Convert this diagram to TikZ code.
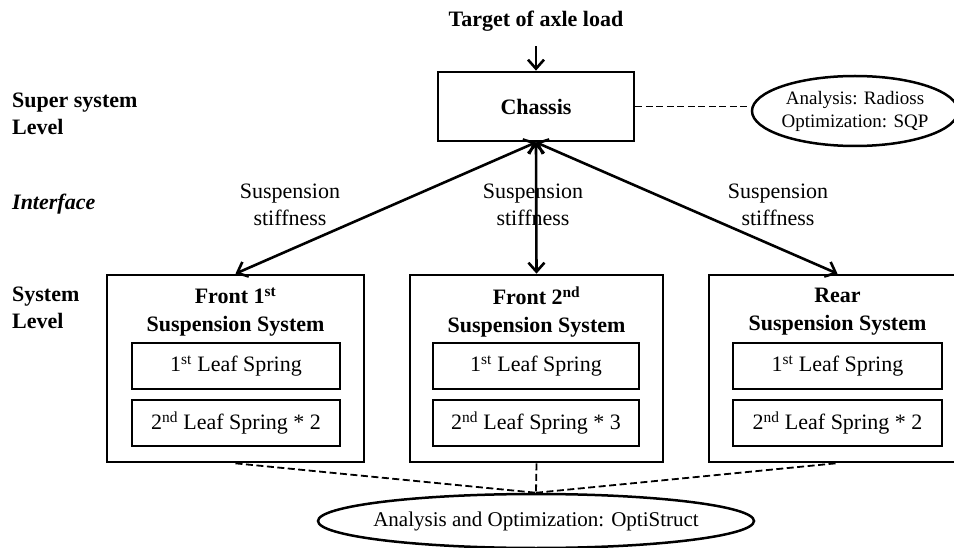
\documentclass[tikz,border=0pt]{standalone}
\usepackage{fontspec}
\setmainfont{Liberation Serif}
\usetikzlibrary{arrows.meta,shapes.geometric}
\begin{document}
\begin{tikzpicture}[x=1pt,y=-1pt,
  box/.style={draw, rectangle, inner sep=0pt, line width=2.7pt},
  ell/.style={draw, ellipse, inner sep=0pt, line width=2.5pt},
  lbl/.style={font=\fontsize{22}{27}\selectfont\bfseries, align=left, anchor=west, inner sep=0pt},
  txt/.style={font=\fontsize{22}{27}\selectfont, align=center, inner sep=0pt},
  btxt/.style={font=\fontsize{22}{28}\selectfont\bfseries, align=center, inner sep=0pt},
  barb/.tip={Straight Barb[length=9pt,width=16pt,line width=2.6pt]},
  arr/.style={-barb, line width=2.6pt},
  darr/.style={barb-barb, line width=2.6pt},
  dsh/.style={line width=1.8pt, dash pattern=on 7pt off 3.5pt}
]
\clip (0,0) rectangle (954,548);

% titles and level labels
\node[btxt] (title) at (536,21) {Target of axle load};
\node[lbl] (super) at (12,114) {Super system\\Level};
\node[lbl, font=\fontsize{22}{27}\selectfont\bfseries\itshape] (iface) at (12,204) {Interface};
\node[lbl] (syslev) at (12,307.5) {System\\Level};

% chassis and its ellipse
\node[box, minimum width=196pt, minimum height=69pt, font=\fontsize{22}{27}\selectfont\bfseries] (chassis) at (536,106.5) {Chassis};
\node[ell, inner xsep=-8pt, minimum width=206pt, minimum height=70pt, align=center, font=\fontsize{19}{23}\selectfont] (ell1) at (855,111) {Analysis: Radioss\\Optimization: SQP};

% system boxes
\node[box, minimum width=257pt, minimum height=187pt] (sys1) at (235.5,368.5) {};
\node[box, minimum width=253pt, minimum height=187pt] (sys2) at (536.5,368.5) {};
\node[box, minimum width=257pt, minimum height=187pt] (sys3) at (837.5,368.5) {};

% system titles
\node[btxt] (t1) at (235.5,312) {Front 1\textsuperscript{st}\\Suspension System};
\node[btxt] (t2) at (536.5,312) {Front 2\textsuperscript{nd}\\Suspension System};
\node[btxt] (t3) at (837.5,312) {Rear\\Suspension System};

% leaf springs
\node[box, minimum width=208pt, minimum height=46pt, font=\fontsize{22}{27}\selectfont] (a1) at (236,366) {1\textsuperscript{st} Leaf Spring};
\node[box, minimum width=208pt, minimum height=46pt, font=\fontsize{22}{27}\selectfont] (b1) at (236,423) {2\textsuperscript{nd} Leaf Spring * 2};
\node[box, minimum width=206pt, minimum height=46pt, font=\fontsize{22}{27}\selectfont] (a2) at (536,366) {1\textsuperscript{st} Leaf Spring};
\node[box, minimum width=206pt, minimum height=46pt, font=\fontsize{22}{27}\selectfont] (b2) at (536,423) {2\textsuperscript{nd} Leaf Spring * 3};
\node[box, minimum width=209pt, minimum height=46pt, font=\fontsize{22}{27}\selectfont] (a3) at (837.5,366) {1\textsuperscript{st} Leaf Spring};
\node[box, minimum width=209pt, minimum height=46pt, font=\fontsize{22}{27}\selectfont] (b3) at (837.5,423) {2\textsuperscript{nd} Leaf Spring * 2};

% interface labels
\node[txt] (s1) at (290,205) {Suspension\\stiffness};
\node[txt] (s2) at (533,205) {Suspension\\stiffness};
\node[txt] (s3) at (778,205) {Suspension\\stiffness};

% bottom ellipse
\node[ell, inner xsep=-14pt, minimum width=436pt, minimum height=54pt, font=\fontsize{21}{24}\selectfont] (ell2) at (536,521) {Analysis and Optimization: OptiStruct};

% connectors
\draw[arr] ([yshift=-15pt]title.south) -- (chassis.north);
\draw[darr] (chassis.south) -- (sys1.north);
\draw[darr] (chassis.south) -- (sys2.north);
\draw[darr] (chassis.south) -- (sys3.north);
\draw[dsh] (chassis.east) -- (chassis.east -| ell1.west);
\draw[dsh] (sys1.south) -- (ell2.north);
\draw[dsh] (sys2.south) -- (ell2.north);
\draw[dsh] ([xshift=-2pt]sys3.south) -- (ell2.north);
\end{tikzpicture}
\end{document}
